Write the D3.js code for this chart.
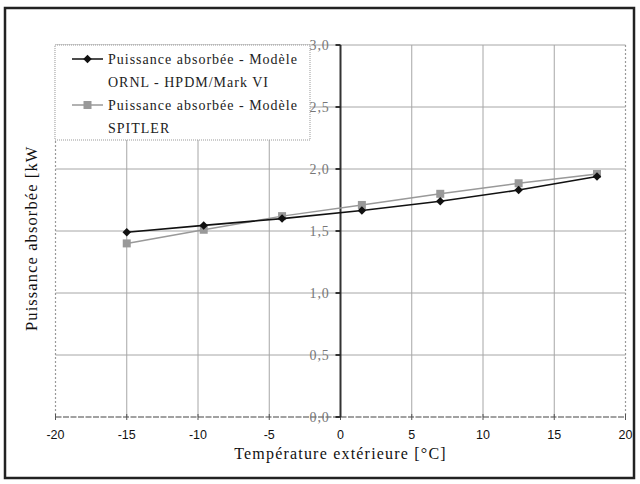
<!DOCTYPE html>
<html><head><meta charset="utf-8">
<script src="https://cdn.jsdelivr.net/npm/d3@7"></script>
<style>body{margin:0;background:#fff}svg{display:block}</style>
</head><body>
<svg id="c" width="640" height="484"></svg>
<script>
const temps = [-15, -9.6, -4.1, 1.5, 7.0, 12.5, 18.0];
const ornl = [1.49, 1.545, 1.60, 1.665, 1.74, 1.83, 1.94];
const spitler = [1.40, 1.51, 1.62, 1.71, 1.80, 1.885, 1.96];
const xTicks = [-20, -15, -10, -5, 0, 5, 10, 15, 20];
const yTicks = [0.0, 0.5, 1.0, 1.5, 2.0, 2.5, 3.0];
const seriesNames = ["Puissance absorbée - Modèle|ORNL - HPDM/Mark VI", "Puissance absorbée - Modèle|SPITLER"];
const xTitle = "Température extérieure [°C]";
const yTitle = "Puissance absorbée [kW";

const svg = d3.select("#c");
const x = d3.scaleLinear().domain([-20, 20]).range([55.5, 625.5]);
const y = d3.scaleLinear().domain([0, 3]).range([417, 45]);
const serif = "'Liberation Serif', 'DejaVu Serif', serif";

// outer frame
svg.append("rect").attr("x", 5).attr("y", 8).attr("width", 629).attr("height", 470)
  .attr("fill", "none").attr("stroke", "#222").attr("stroke-width", 2.5);

// grid
svg.append("g").selectAll("line").data(xTicks.filter(d => d > -20 && d < 20 && d !== 0)).join("line")
  .attr("x1", d => x(d)).attr("x2", d => x(d)).attr("y1", y(3)).attr("y2", y(0))
  .attr("stroke", "#a6a6a6").attr("stroke-width", 1);
svg.append("g").selectAll("line").data(yTicks.filter(d => d > 0)).join("line")
  .attr("x1", x(-20)).attr("x2", x(20)).attr("y1", d => y(d)).attr("y2", d => y(d))
  .attr("stroke", "#a6a6a6").attr("stroke-width", 1);
// dashed side borders
[-20, 20].forEach(v => svg.append("line").attr("x1", x(v)).attr("x2", x(v)).attr("y1", y(3)).attr("y2", y(0))
  .attr("stroke", "#999").attr("stroke-width", 1.2).attr("stroke-dasharray", "2,2"));
// bottom axis
svg.append("line").attr("x1", x(-20)).attr("x2", x(20)).attr("y1", y(0)).attr("y2", y(0))
  .attr("stroke", "#444").attr("stroke-width", 1.2).attr("stroke-dasharray", "6,1.5");
// x ticks
svg.append("g").selectAll("line").data(xTicks).join("line")
  .attr("x1", d => x(d)).attr("x2", d => x(d)).attr("y1", y(0) - 3).attr("y2", y(0) + 3)
  .attr("stroke", "#555").attr("stroke-width", 1);
// x tick labels
svg.append("g").selectAll("text").data(xTicks).join("text")
  .attr("x", d => x(d)).attr("y", 439).attr("text-anchor", "middle")
  .attr("font-family", "'Liberation Sans', Arial, sans-serif").attr("font-size", 12.5).attr("fill", "#111")
  .text(d => d);

// y axis at x=0
svg.append("line").attr("x1", x(0)).attr("x2", x(0)).attr("y1", y(3)).attr("y2", y(0))
  .attr("stroke", "#333").attr("stroke-width", 2);
svg.append("g").selectAll("line").data(yTicks).join("line")
  .attr("x1", x(0) - 5).attr("x2", x(0)).attr("y1", d => y(d)).attr("y2", d => y(d))
  .attr("stroke", "#222").attr("stroke-width", 1.8);
svg.append("g").selectAll("text").data(yTicks).join("text")
  .attr("x", x(0) - 11).attr("y", d => y(d) + 4.5).attr("text-anchor", "end")
  .attr("font-family", serif).attr("font-size", 14).attr("fill", "#777")
  .attr("letter-spacing", 0.8)
  .text(d => d.toFixed(1).replace(".", ","));

// series
const line = d3.line().x(d => x(d[0])).y(d => y(d[1]));
const dGray = temps.map((t, i) => [t, spitler[i]]);
const dBlack = temps.map((t, i) => [t, ornl[i]]);
svg.append("path").datum(dGray).attr("d", line).attr("fill", "none").attr("stroke", "#999").attr("stroke-width", 1.5);
svg.append("g").selectAll("rect").data(dGray).join("rect")
  .attr("x", d => x(d[0]) - 4).attr("y", d => y(d[1]) - 4).attr("width", 8).attr("height", 8).attr("fill", "#999");
svg.append("path").datum(dBlack).attr("d", line).attr("fill", "none").attr("stroke", "#111").attr("stroke-width", 1.6);
svg.append("g").selectAll("path").data(dBlack).join("path")
  .attr("transform", d => `translate(${x(d[0])},${y(d[1])}) rotate(45)`)
  .attr("d", d3.symbol().type(d3.symbolSquare).size(36)).attr("fill", "#111");

// titles
svg.append("text").attr("x", x(0)).attr("y", 459).attr("text-anchor", "middle")
  .attr("font-family", serif).attr("font-size", 16).attr("fill", "#111").attr("letter-spacing", 1.2).text(xTitle);
svg.append("text").attr("transform", "translate(37,331) rotate(-90)").attr("text-anchor", "start")
  .attr("font-family", serif).attr("font-size", 16.5).attr("fill", "#111").attr("letter-spacing", 1.1).text(yTitle);

// legend
const lg = svg.append("g");
lg.append("rect").attr("x", 55).attr("y", 45).attr("width", 255).attr("height", 95)
  .attr("fill", "#fff").attr("stroke", "#999").attr("stroke-width", 1).attr("stroke-dasharray", "1,1");
const entries = [
  {name: seriesNames[0], color: "#111", shape: "diamond", y0: 59},
  {name: seriesNames[1], color: "#999", shape: "square", y0: 105}
];
entries.forEach(e => {
  lg.append("line").attr("x1", 72).attr("x2", 103).attr("y1", e.y0).attr("y2", e.y0)
    .attr("stroke", e.color).attr("stroke-width", 1.5);
  if (e.shape === "diamond") {
    lg.append("path").attr("transform", `translate(87.5,${e.y0}) rotate(45)`)
      .attr("d", d3.symbol().type(d3.symbolSquare).size(36)).attr("fill", e.color);
  } else {
    lg.append("rect").attr("x", 83.5).attr("y", e.y0 - 4).attr("width", 8).attr("height", 8).attr("fill", e.color);
  }
  e.name.split("|").forEach((t, i) => {
    lg.append("text").attr("x", 108).attr("y", e.y0 + 5 + i * 23)
      .attr("font-family", serif).attr("font-size", 14).attr("fill", "#222")
      .attr("letter-spacing", 1.0).text(t);
  });
});
</script>
</body></html>
